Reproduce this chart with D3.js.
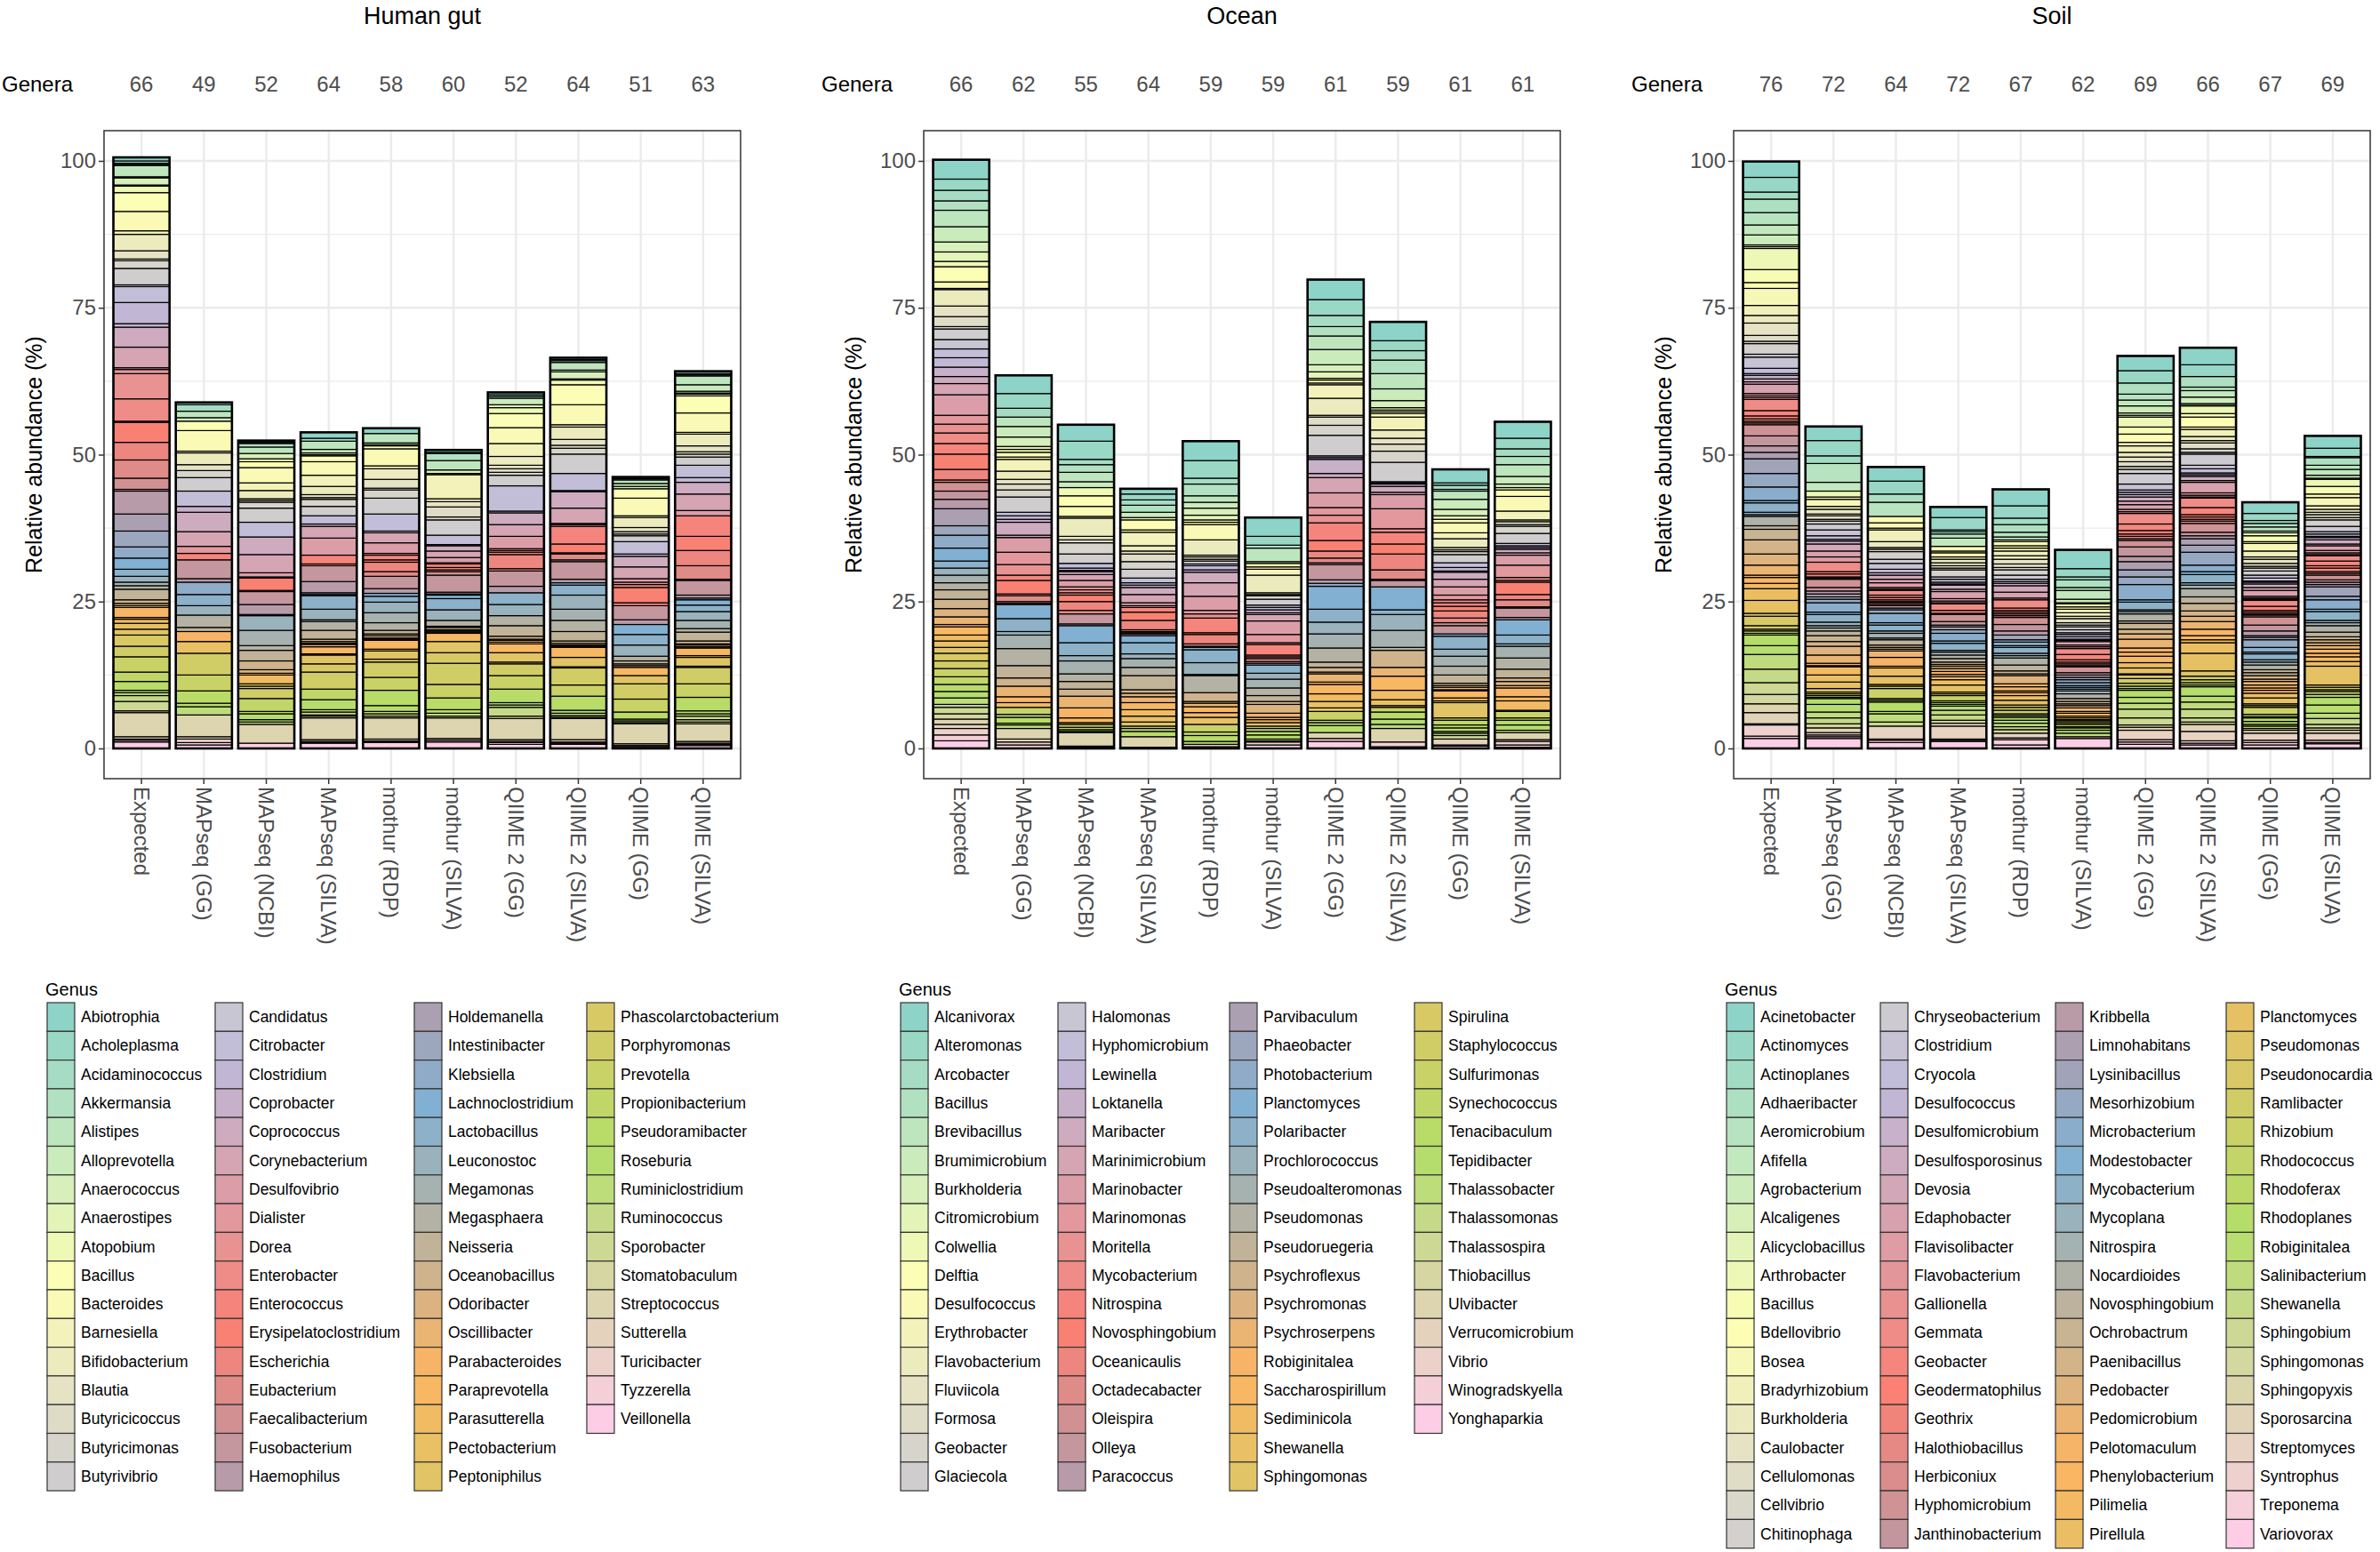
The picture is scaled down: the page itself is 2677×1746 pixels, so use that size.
<!DOCTYPE html>
<html>
<head>
<meta charset="utf-8">
<script src="https://cdn.jsdelivr.net/npm/d3@7"></script>
<style>
  body { margin: 0; background: #fff; }
  text { font-family: "Liberation Sans", Arial, sans-serif; }
</style>
</head>
<body>
<svg id="chart" width="2677" height="1746"></svg>
<script>
// ---- data ----
const methods = ["Expected", "MAPseq (GG)", "MAPseq (NCBI)", "MAPseq (SILVA)", "mothur (RDP)",
  "mothur (SILVA)", "QIIME 2 (GG)", "QIIME 2 (SILVA)", "QIIME (GG)", "QIIME (SILVA)"];
const panelTitles = ["Human gut", "Ocean", "Soil"];

const gutGenera = ["Abiotrophia","Acholeplasma","Acidaminococcus","Akkermansia","Alistipes","Alloprevotella",
  "Anaerococcus","Anaerostipes","Atopobium","Bacillus","Bacteroides","Barnesiella","Bifidobacterium","Blautia",
  "Butyricicoccus","Butyricimonas","Butyrivibrio","Candidatus","Citrobacter","Clostridium","Coprobacter",
  "Coprococcus","Corynebacterium","Desulfovibrio","Dialister","Dorea","Enterobacter","Enterococcus",
  "Erysipelatoclostridium","Escherichia","Eubacterium","Faecalibacterium","Fusobacterium","Haemophilus",
  "Holdemanella","Intestinibacter","Klebsiella","Lachnoclostridium","Lactobacillus","Leuconostoc","Megamonas",
  "Megasphaera","Neisseria","Oceanobacillus","Odoribacter","Oscillibacter","Parabacteroides","Paraprevotella",
  "Parasutterella","Pectobacterium","Peptoniphilus","Phascolarctobacterium","Porphyromonas","Prevotella",
  "Propionibacterium","Pseudoramibacter","Roseburia","Ruminiclostridium","Ruminococcus","Sporobacter",
  "Stomatobaculum","Streptococcus","Sutterella","Turicibacter","Tyzzerella","Veillonella"];
const oceanGenera = ["Alcanivorax","Alteromonas","Arcobacter","Bacillus","Brevibacillus","Brumimicrobium",
  "Burkholderia","Citromicrobium","Colwellia","Delftia","Desulfococcus","Erythrobacter","Flavobacterium",
  "Fluviicola","Formosa","Geobacter","Glaciecola","Halomonas","Hyphomicrobium","Lewinella","Loktanella",
  "Maribacter","Marinimicrobium","Marinobacter","Marinomonas","Moritella","Mycobacterium","Nitrospina",
  "Novosphingobium","Oceanicaulis","Octadecabacter","Oleispira","Olleya","Paracoccus","Parvibaculum",
  "Phaeobacter","Photobacterium","Planctomyces","Polaribacter","Prochlorococcus","Pseudoalteromonas",
  "Pseudomonas","Pseudoruegeria","Psychroflexus","Psychromonas","Psychroserpens","Robiginitalea",
  "Saccharospirillum","Sediminicola","Shewanella","Sphingomonas","Spirulina","Staphylococcus","Sulfurimonas",
  "Synechococcus","Tenacibaculum","Tepidibacter","Thalassobacter","Thalassomonas","Thalassospira",
  "Thiobacillus","Ulvibacter","Verrucomicrobium","Vibrio","Winogradskyella","Yonghaparkia"];
const soilGenera = ["Acinetobacter","Actinomyces","Actinoplanes","Adhaeribacter","Aeromicrobium","Afifella",
  "Agrobacterium","Alcaligenes","Alicyclobacillus","Arthrobacter","Bacillus","Bdellovibrio","Bosea",
  "Bradyrhizobium","Burkholderia","Caulobacter","Cellulomonas","Cellvibrio","Chitinophaga","Chryseobacterium",
  "Clostridium","Cryocola","Desulfococcus","Desulfomicrobium","Desulfosporosinus","Devosia","Edaphobacter",
  "Flavisolibacter","Flavobacterium","Gallionella","Gemmata","Geobacter","Geodermatophilus","Geothrix",
  "Halothiobacillus","Herbiconiux","Hyphomicrobium","Janthinobacterium","Kribbella","Limnohabitans",
  "Lysinibacillus","Mesorhizobium","Microbacterium","Modestobacter","Mycobacterium","Mycoplana","Nitrospira",
  "Nocardioides","Novosphingobium","Ochrobactrum","Paenibacillus","Pedobacter","Pedomicrobium","Pelotomaculum",
  "Phenylobacterium","Pilimelia","Pirellula","Planctomyces","Pseudomonas","Pseudonocardia","Ramlibacter",
  "Rhizobium","Rhodococcus","Rhodoferax","Rhodoplanes","Robiginitalea","Salinibacterium","Shewanella",
  "Sphingobium","Sphingomonas","Sphingopyxis","Sporosarcina","Streptomyces","Syntrophus","Treponema","Variovorax"];

const gutGeneraCount = [66, 49, 52, 64, 58, 60, 52, 64, 51, 63];
const oceanGeneraCount = [66, 62, 55, 64, 59, 59, 61, 59, 61, 61];
const soilGeneraCount = [76, 72, 64, 72, 67, 62, 69, 66, 67, 69];

// relative abundance (%) per genus, in genus order, one row per method
const gutValues = [
  ["0.6 0.4 0.2 0.2 1.9 0.2 1.2 0.2 1.1 3.2 3.3 0.6 2.8 1.4 0.3 1.3 2.8 0.3 2.7 3.6 0.6 3.4 3.5 0.3 0.7 4.3 3.8 0.2 3.4 3.0 3.1 1.9 0.3 3.9 2.9 2.7 1.9 1.9 1.2 1.0 0.6 0.6 1.8 0.6 0.4 0.3 1.7 0.3 0.7 1.0 1.0 1.9 1.8 2.6 1.6 1.5 0.4 0.5 1.0 1.6 0.3 4.1 0.4 0.2 0.3 1.1"],
  ["0.4 0 1.1 0 1.1 0.6 0 0", "0 1.6 3.5 0.3 2.0 1.0 0 1.2 2.3", "0 2.6 0 1.0 3.3 2.5 0 1.2 0", "0 1.1 0 0 0 0 3.2 0.6", "0 0 2.1 0 1.9 1.6 0 2.1 0.7", "0 0 0 1.7 0 0 2.0 0 0", "3.7 2.7 0 2.1 0.6 1.4 0 0 0", "3.7 0.4 0.6 0.4 0.6"],
  ["0.3 0 0.2 0.6 1.1 0 0.9 0", "0.5 1.0 2.6 1.3 1.4 0.3 0.3 1.0 2.4", "0 2.5 0 0 3.0 3.1 0.7 0 0", "0 0.2 2.1 0.2 0 0 2.2 1.7", "0 0 0 0 0.2 2.5 2.6 0.8 1.8", "1.5 0.6 0 0 0.3 1.5 0 0.4 0.4", "1.7 0 2.2 0.4 1.0 0.4 0.4 0 0", "3.2 0 0 0 0.9"],
  ["1.0 0 0.5 0 1.4 0.6 0.3 0", "0.2 1.0 2.3 1.9 1.4 0.5 0.3 1.2 1.6", "0 1.4 0 0 0.4 2.0 2.9 0 0", "0 1.5 0.3 0 0 0 2.7 1.9", "0 0 0.3 0.2 2.3 1.8 0.3 1.5 1.5", "0.4 0.3 0.2 0.4 1.2 0.2 0 1.5 1.4", "2.9 0 1.8 0 1.7 0.4 0.5 0.2 0.3", "3.7 0.3 0.2 0.1 0.9"],
  ["0.9 0 0 0 1.6 0.3 0.2 0", "0 0.5 2.9 0.5 1.8 1.5 0.3 1.4 2.7", "0 2.9 0 0 0.3 1.7 1.8 0.3 0", "0 0.8 0.4 1.6 0.8 0 2.1 0.8", "0 0 0 0.5 1.0 1.8 1.7 1.3 0.6", "0.3 0.4 0.2 0.2 1.5 0.3 0 1.4 0.5", "2.6 2.2 0 2.6 1.0 0.4 0.4 0.3 0", "3.6 0.3 0.2 0.1 1.0"],
  ["0.4 0.2 0 1.2 1.6 0 0.6 0", "0 0 0.2 4.1 0.5 0.9 1.7 0.5 2.6", "0 1.6 0.2 0 0.9 1.1 0.9 0 0", "0 0.2 0.6 0.4 0.3 0.6 2.9 0.3", "0 0 0.2 0.6 1.9 1.8 0 1.0 0.2", "0.4 0.2 0.2 0.2 1.4 0 0 1.9 1.8", "3.6 2.3 0 2.0 0.6 0.5 0.3 0 0", "3.5 0.3 0.3 0 1.1"],
  ["0.4 0.3 0 0.3 0 1.1 0 0.5", "1.0 2.4 2.7 2.2 1.5 0.6 0.6 0.5 1.8", "0 4.3 0.3 0 2.0 2.0 2.1 0.3 0", "0 0.3 0.4 2.4 0.4 0 2.6 1.1", "0 0 0 0 2.0 1.9 0 1.7 1.8", "0.5 0.2 0.3 0.3 1.5 0 0 1.6 0.3", "2.0 2.3 0 2.3 0.4 0.4 1.5 0.4 0", "3.6 0.3 0.2 0.3 0.7"],
  ["0.3 0.2 0.3 0 1.3 0.3 1.2 0.2", "0.8 3.4 3.4 0.4 2.1 1.0 0.5 1.0 3.3", "0 2.9 0.2 0 2.8 2.6 0.2 0.3 0", "0 3.0 1.5 0.2 1.0 0.3 3.0 0.6", "0 0 0 0.4 1.7 2.4 1.9 1.9 1.6", "0.4 0.3 0.2 0.2 1.7 0 0 1.6 0.2", "2.9 1.9 0 2.4 0.5 0.4 0.3 0.2 0", "3.6 0.4 0.2 0.2 0.7"],
  ["0.3 0 0.2 0 0.6 0.5 0.4 0", "0 1.6 3.0 0.3 1.7 0.7 0.4 0.3 1.0", "0 2.1 0.4 0 1.8 2.0 0.6 0.4 0", "0 0.5 2.6 0.5 0 0 2.4 0.8", "0 0 0 1.7 1.8 1.9 0 0.8 0.5", "0.3 0.3 0 0 1.4 0 0 1.4 0", "2.6 2.2 0 1.2 0.3 0.3 0.2 0 0", "3.4 0.3 0 0.2 0.3"],
  ["0.4 0.2 0 0.2 1.5 1.1 0.3 0.2", "0.3 2.9 3.3 0.3 2.0 1.0 0.4 0.5 1.4", "0 2.1 0.8 0 2.0 2.8 0.9 0 0", "0 3.5 2.4 2.6 2.3 0.2 2.5 0.5", "0 0 0.3 0.9 1.1 1.5 1.4 0.6 1.5", "0.5 0.2 0.3 0.2 1.3 0.3 0 1.5 0.2", "2.8 2.3 0 2.3 0.5 0.4 0.6 0.4 0.3", "3.0 0.3 0.2 0.2 0.5"]
];
const oceanValues = [
  ["3.3 1.9 1.8 1.6 2.8 2.6 1.7 1.6 0.9 2.6 1.1 0.2 2.8 1.8 1.7 0.4 1.8 1.6 1.5 1.6 1.6 1.2 1.9 3.5 1.5 1.5 1.8 1.8 2.6 1.8 0.4 1.5 1.4 1.6 2.9 1.6 2.2 2.2 1.2 1.2 1.3 1.2 1.6 1.6 1.4 1.3 0.4 1.4 1.0 1.1 1.0 1.3 1.3 1.4 1.3 1.2 1.1 1.1 0.5 1.1 0.9 0.9 0.7 1.1 1.0 1.3"],
  ["3.1 2.5 1.5 0 1.6 1.8 1.6 0.5", "0.5 0.8 0.4 2.0 1.4 0.8 1.0 1.2 2.6", "0 0.6 0.6 0.5 2.2 0.4 2.5 2.1 1.8", "0 0.9 2.3 0.3 1.0 0.3 0.2 0", "0 0 0 2.4 2.2 0.6 2.3 2.9 2.1", "1.4 0 1.8 0 1.0 0.8 0 0 0", "0 1.2 0.5 1.0 0.3 0.6 0 0 0", "1.8 0.5 0.5 0.6 0"],
  ["2.8 3.1 0.9 1.3 1.6 1.0 0 0", "1.4 1.8 1.7 0.3 3.1 0.6 0.5 1.9 1.6", "0 0.8 0.4 0.2 0.5 1.0 1.1 0.5 0.5", "0 0.4 1.1 1.5 0.6 0 1.7 0.3", "0 0 0 2.9 2.2 0.9 2.2 1.3 1.3", "1.2 0 2.0 1.7 0.8 0.3 0 0 0", "0 0.5 0.4 0.3 0.2 0 0 0 0", "2.3 0 0 0.2 0.2"],
  ["0.9 1.0 0.9 1.2 0 0.9 0 0", "0.4 1.7 0.4 2.3 0.9 0.5 1.3 1.3 1.5", "0 0.8 0.4 0.4 1.2 1.4 0.5 0.3 0", "0 0.8 1.4 1.6 0.3 0.2 0.2 0.3", "0 0 0 1.2 1.9 0.8 1.5 1.4 2.4", "0.6 0.6 1.0 0 1.2 1.1 1.0 0.7 0", "0 0.4 0.5 0.9 0 0 0 0 0", "1.8 0.2 0 0 0"],
  ["3.3 3.0 1.0 2.0 1.1 1.0 1.2 0.8", "0.4 0.4 2.6 0 2.6 0.3 0.4 0.3 0.5", "0 0.3 0.7 0.4 1.8 2.3 2.4 0.6 0.7", "0 2.5 0.3 1.6 0.4 0.2 0 0", "0 0 0 0.4 2.2 2.0 0.2 2.9 0", "1.5 0.3 0.6 0 1.0 0.8 1.2 0 0", "0 1.3 0.6 1.0 0.5 0 0 0 0", "0 0 0.4 0.3 0"],
  ["3.2 1.5 0 0.5 2.3 0 0 0", "0.3 0.6 0.4 1.0 3.0 0.3 0.2 0.6 1.0", "0 0.4 0.4 0.5 0.3 1.1 2.3 1.4 0.3", "0 1.8 0.3 0.3 0.5 0.3 0 0", "0 0 0 0.3 1.4 1.0 1.5 1.3 1.0", "0.5 1.5 0.7 0.4 0.5 0.6 0 0 0", "0 0.4 0.5 0.6 0.7 0.3 0 0 0", "0.2 0 0 0.5 0.6"],
  ["3.4 2.7 1.9 1.6 2.3 2.6 1.2 1.1", "0.3 0.5 0.3 2.3 2.9 0.3 1.4 1.7 3.5", "0 0.3 0.3 2.4 0.7 2.6 2.5 1.3 1.3", "0 3.0 1.8 1.2 0.8 0.3 2.6 0.6", "0 0 0.5 3.9 2.2 2.0 2.4 2.4 0.9", "0.8 0.3 1.4 0.4 1.6 1.3 1.1 0.6 0", "0 1.5 0.4 0.5 1.2 0 0 0 0", "1.0 0 0 0.5 1.2"],
  ["3.2 1.7 1.6 2.3 2.6 2.0 1.2 0.4", "0.3 0.3 0.6 2.2 1.4 1.0 1.2 1.9 3.3", "0 0.2 0.2 0.4 1.0 0.4 2.4 3.4 0.6", "0 2.0 1.7 2.7 1.6 0.2 1.1 0", "0 0 0 3.9 0.8 2.7 2.9 0.5 0", "2.9 0 1.5 0 2.4 1.6 1.0 0.3 0", "0 0.8 0 1.2 0.9 0.7 0 0 0", "2.3 0 0 0.8 0.3"],
  ["2.3 0.4 0.7 0.3 1.4 1.7 1.1 0.6", "0 0.6 1.7 1.0 1.5 0.4 0.3 0.5 1.4", "0 0.8 0.6 0.2 1.2 1.3 1.4 0.8 0.5", "0 0.6 0.8 1.2 0.8 0.5 1.4 0", "0 0 0 0.4 2.2 1.2 1.7 1.5 1.4", "0.4 0.3 0.4 0.2 1.2 0.5 0.3 2.6 0", "0 0.4 0.8 0.5 0.6 0.3 0.4 0.6 0", "0 1.0 0.2 0.4 0"],
  ["2.8 1.8 1.3 1.4 2.0 1.3 0.6 0.4", "0 1.1 2.5 1.5 0.3 0.5 0.3 1.2 1.7", "0 0.4 0.3 0.3 0.6 0.4 1.7 2.1 0.5", "0 0.3 2.1 0.9 1.2 0.2 1.6 0.4", "0 0 0 2.6 1.5 0.4 2.0 1.9 1.5", "0.6 0.7 0.4 1.5 0.7 1.6 0.2 0 0", "0 1.1 0.4 0.8 0.9 0.4 0 0 0", "1.2 0.3 0.6 0.4 0.2"]
];
const soilValues = [
  ["2.7 2.5 1.2 2.3 2.1 1.7 1.7 0.3 0.3", "3.6 2.2 1.0 2.9 1.7 1.3 2.1 1.0 0.4 1.8 0.5", "1.9 0.9 0.3 0.6 0.5 0.4 1.6 0.4 0.3 0.3", "1.9 0.9 0.5 0.4 0.3 0.3 1.9 1.7 1.1", "1.1 2.5 2.3 2.3 0.4 1.6 0.4 0.3 1.6 0.6", "1.8 2.4 1.9 1.7 0.4 1.0 0.9 2.0 2.2 0.5", "1.6 0.6 0.3 0.4 0.3 1.8 1.5 2.5 2.3 2.0 1.6", "1.5 1.9 0.2 1.9 0.4 1.7"],
  ["2.4 2.6 1.3 0 3.2 1.5 0 0 0", "1.0 0.4 0 1.2 0.5 0.8 0.3 0.6 0.3 0.5 1.0", "1.0 0.6 0.3 0 0.5 1.2 1.0 0.9 0 0", "1.6 0.4 0.5 0.2 0.2 0 1.4 0.6 0.5", "0.5 0.4 0.6 1.6 0.4 1.3 0.6 0.4 0.5 0.8", "1.0 0.8 1.5 1.4 0.4 0.2 1.4 1.2 1.1 0.6", "0 0.3 0.3 0.3 0.2 1.0 1.3 1.0 1.0 0.7 0", "0 0.8 0.4 0.3 0.3 1.7"],
  ["2.4 2.2 0 1.4 2.4 0 0 0 0", "0 1.1 0.9 0.3 2.0 1.0 0.3 0.4 0 1.3 0.7", "1.0 0.6 0 0.4 0 0.7 0.6 0.8 0.3 0.2", "0.8 0.4 0.4 0.3 0.2 0.3 0.2 0.4 0", "0 0.3 0.6 1.6 0.4 1.0 0.4 0.8 0.3 0.9", "0.4 0.3 0.3 1.1 1.5 0.3 0 1.4 1.4 0.3", "0 0.4 1.7 0.3 0.3 1.6 0.4 1.4 0.7 0 0", "0 0 2.2 0.2 0.4 1.0"],
  ["1.8 2.1 0.3 0.4 0.7 1.4 0 0 0", "0 0.8 0.3 0.7 0.4 0.6 0.5 0.4 0.3 1.2 0.4", "0 0.5 0.3 0.2 0.7 0.4 1.2 0.4 0.3 0.2", "1.1 0.5 0.2 0 0 0 1.2 0.6 0.3", "0 0.5 0.6 1.3 0.4 1.2 0.3 0.5 0.6 0.6", "0.4 0.3 0.4 0.5 0.5 0.4 0.5 0.9 1.2 0.3", "0 0.3 0.9 0.3 0.3 0.3 0.7 0.8 0.9 0.5 0", "0 0.5 2.2 0.2 0.2 1.2"],
  ["2.8 2.1 1.1 1.3 0.8 0.5 0.3 0 0", "0 0.7 0.4 0.5 0.8 0.6 0.8 0.6 0.4 0.9 0.7", "0 0.4 0.3 0 0.4 1.1 1.0 0.3 0 0", "1.4 0.4 0.3 0.3 0.3 0.3 1.2 1.1 0.7", "0 0.8 0.4 0.6 0.3 1.0 0.4 0.4 1.2 1.0", "0.5 0.3 1.4 0.5 0.7 0.3 0.5 0.8 0.8 0.4", "0 0.5 0.6 0.3 0.3 0.5 0.5 0.6 0.5 0.6 0", "0 0 0.8 0.3 0.9 0.6"],
  ["3.2 1.4 0.5 1.3 0.5 1.5 0.6 0.2 0", "0 0.5 0.4 0.6 0.6 0.4 0.7 0.4 0.3 0.5 0.5", "0.3 0.4 0.4 0 0.2 0.2 0.6 0.3 0.3 0", "1.0 0.9 0.4 0.3 0.3 0.2 1.0 0.4 0.4", "0 0.4 0.5 0.5 0.3 0.3 0.3 0.5 0.8 0.5", "0.4 0.3 0.4 0.6 0.3 0.5 0.3 0.3 0.2 0", "0 0.3 0.3 0.4 0.2 0.4 0.5 0.6 0 0 0", "0 0 0 0 0.3 1.7"],
  ["2.5 2.1 0 1.9 1.0 1.0 1.2 0.4 0.3", "1.7 1.2 1.4 0.6 1.1 0.8 0.8 0.8 0.5 0.7 1.8", "1.0 0.4 0.4 0.4 0.7 0.6 0.8 0.4 0.3 0", "1.8 1.1 0.6 0.4 0.4 0.3 1.1 1.6 0.9", "1.4 1.2 1.3 2.6 0.4 1.3 0.3 0.4 1.2 0.4", "1.0 0.8 0.9 1.5 0.7 0.7 1.1 0.9 1.0 0.2", "0.6 0.8 0.5 0.4 0.3 1.2 1.0 1.0 1.5 1.2 0.4", "0 0.5 1.6 0.4 0.4 0.7"],
  ["2.9 2.0 0 1.8 0.6 1.1 1.1 0.3 0.1", "1.3 0.6 1.7 0.4 1.2 0.7 0.4 1.0 0.6 0.3 1.9", "0.6 0.7 0.3 0.3 0.7 0.3 1.8 0.4 0.3 0.2", "1.6 1.2 0.4 0.4 0.3 0.4 1.5 0.6 0.5", "1.1 1.2 2.2 1.1 0.5 1.4 0.4 0.6 1.4 1.1", "1.3 0.9 0.9 1.3 1.1 0.7 0.5 1.8 3.0 0.9", "0 0.6 0.5 0.4 0.3 1.6 1.0 1.2 1.5 0.7 0.4", "0 1.2 1.6 0.4 0.3 0.6"],
  ["1.9 1.2 0.5 0.6 0.7 0.3 0 0 0", "0.5 1.0 0.3 1.3 1.0 0.4 0.7 0.5 0.3 0.5 0.7", "0.5 0.5 0.2 0.3 0.6 0.5 1.0 0.3 0.2 0.2", "1.0 0.7 0.3 0.3 0.2 0.3 1.4 1.0 0.8", "0.3 0.4 1.3 0.8 0.3 1.0 0.4 0.5 0.8 0.5", "0.5 0.6 0.4 0.6 0.5 0.4 0.5 0.8 1.0 0.3", "0 0.3 1.2 0.4 0.2 0.6 0.5 0.3 0.4 0.3 0", "0 0.5 1.2 0.4 0.4 0.6"],
  ["2.1 1.4 0.2 1.3 0.7 1.0 0.5 0.2 0", "1.2 1.3 0.6 1.4 0.6 0.5 0.4 0.5 0.4 1.1 0.9", "0.4 0.4 0.2 0.4 0.7 0.3 0.8 0.4 0.3 0.2", "0.9 0.8 0.4 0.6 0.3 0.3 0.8 0.4 0.4", "0.4 1.6 0.6 1.6 0.4 1.5 0.4 0.5 1.1 0.8", "0.5 0.5 0.5 0.6 0.7 0.6 0.8 0.8 3.2 0.4", "0 0.4 0.3 0.5 0.5 1.3 1.4 0.9 1.0 0.6 0.4", "0 0.5 1.2 0.4 0.2 0.8"]
];

const yTicks = [0, 25, 50, 75, 100];
const set3 = ["#8DD3C7", "#FFFFB3", "#BEBADA", "#FB8072", "#80B1D3", "#FDB462", "#B3DE69", "#FCCDE5"];

// ---- layout ----
const panels = [
  { genera: gutGenera, counts: gutGeneraCount, values: gutValues, x0: 117, legendX: [53, 242, 466, 660], rows: 17 },
  { genera: oceanGenera, counts: oceanGeneraCount, values: oceanValues, x0: 1039, legendX: [1013, 1190, 1383, 1591], rows: 17 },
  { genera: soilGenera, counts: soilGeneraCount, values: soilValues, x0: 1950, legendX: [1942, 2115, 2312, 2504], rows: 19 }
];
const plotW = 716, plotTop = 147, plotBottom = 876;

const svg = d3.select("#chart");
const y = d3.scaleLinear().domain([0, 100]).range([842, 181]);

panels.forEach((p, pi) => {
  const n = p.genera.length;
  const ramp = d3.piecewise(d3.interpolateRgb, set3);
  const color = d3.scaleOrdinal().domain(p.genera).range(p.genera.map((_, i) => ramp(i / (n - 1))));
  const x = d3.scaleBand().domain(methods).range([p.x0, p.x0 + plotW]).paddingInner(0.1).paddingOuter(0.15);
  const g = svg.append("g");

  // title & genera row
  g.append("text").attr("x", p.x0 + plotW / 2).attr("y", 27).attr("text-anchor", "middle")
    .attr("font-size", 27).text(panelTitles[pi]);
  g.append("text").attr("x", p.x0 - 115).attr("y", 103).attr("font-size", 24).text("Genera");
  g.selectAll(".gc").data(p.counts).join("text")
    .attr("x", (d, i) => x(methods[i]) + x.bandwidth() / 2).attr("y", 103)
    .attr("text-anchor", "middle").attr("font-size", 24).attr("fill", "#4d4d4d").text(d => d);

  // grid
  g.append("rect").attr("x", p.x0).attr("y", plotTop).attr("width", plotW).attr("height", plotBottom - plotTop).attr("fill", "#fff");
  const minor = [12.5, 37.5, 62.5, 87.5];
  g.selectAll(".mn").data(minor).join("line").attr("x1", p.x0).attr("x2", p.x0 + plotW)
    .attr("y1", d => y(d)).attr("y2", d => y(d)).attr("stroke", "#ebebeb").attr("stroke-width", 1.2);
  g.selectAll(".mj").data(yTicks).join("line").attr("x1", p.x0).attr("x2", p.x0 + plotW)
    .attr("y1", d => y(d)).attr("y2", d => y(d)).attr("stroke", "#ebebeb").attr("stroke-width", 2.4);
  g.selectAll(".vx").data(methods).join("line")
    .attr("x1", d => x(d) + x.bandwidth() / 2).attr("x2", d => x(d) + x.bandwidth() / 2)
    .attr("y1", plotTop).attr("y2", plotBottom).attr("stroke", "#ebebeb").attr("stroke-width", 2.4);

  // stacked bars: first genus on top
  p.values.forEach((groups, bi) => {
    let vals = groups.join(" ").trim().split(/\s+/).map(Number);
    if (vals.length !== n) { console.warn(panelTitles[pi], methods[bi], vals.length); }
    let cum = 0;
    const segs = [];
    for (let i = n - 1; i >= 0; i--) {
      const v = vals[i] || 0;
      if (v > 0) segs.push({ genus: p.genera[i], y0: cum, y1: cum + v });
      cum += v;
    }
    const bx = x(methods[bi]);
    g.selectAll(null).data(segs).join("rect")
      .attr("x", bx).attr("width", x.bandwidth())
      .attr("y", d => y(d.y1)).attr("height", d => y(d.y0) - y(d.y1))
      .attr("fill", d => color(d.genus)).attr("stroke", "#000").attr("stroke-width", 1.2);
    g.append("rect").attr("x", bx).attr("width", x.bandwidth())
      .attr("y", y(cum)).attr("height", y(0) - y(cum))
      .attr("fill", "none").attr("stroke", "#000").attr("stroke-width", 2.6);
  });

  // panel border
  g.append("rect").attr("x", p.x0).attr("y", plotTop).attr("width", plotW).attr("height", plotBottom - plotTop)
    .attr("fill", "none").attr("stroke", "#333").attr("stroke-width", 1.5);

  // y axis
  const yAxis = g.append("g").attr("transform", `translate(${p.x0},0)`)
    .call(d3.axisLeft(y).tickValues(yTicks).tickSize(6).tickFormat(d3.format("d")));
  yAxis.select(".domain").remove();
  yAxis.selectAll("line").attr("stroke", "#333").attr("stroke-width", 1.5);
  yAxis.selectAll("text").attr("font-size", 24).attr("fill", "#4d4d4d").attr("x", -9)
    .style("font-family", "Liberation Sans, Arial, sans-serif");
  g.append("text").attr("transform", `translate(${p.x0 - 79},${(plotTop + plotBottom) / 2}) rotate(-90)`)
    .attr("text-anchor", "middle").attr("dominant-baseline", "central").attr("font-size", 25)
    .text("Relative abundance (%)");

  // x axis
  const xAxis = g.append("g").attr("transform", `translate(0,${plotBottom})`)
    .call(d3.axisBottom(x).tickSize(6));
  xAxis.select(".domain").remove();
  xAxis.selectAll("line").attr("stroke", "#333").attr("stroke-width", 1.5);
  xAxis.selectAll("text").attr("font-size", 24).attr("fill", "#4d4d4d")
    .style("font-family", "Liberation Sans, Arial, sans-serif")
    .attr("text-anchor", "start").attr("dominant-baseline", "central")
    .attr("transform", "translate(0,9) rotate(90)").attr("x", 0).attr("y", 0).attr("dy", null);

  // legend
  const lg = g.append("g");
  lg.append("text").attr("x", p.legendX[0] - 2).attr("y", 1120).attr("font-size", 20).text("Genus");
  const rowH = 32.3, keyW = 31, top = 1128;
  p.genera.forEach((name, i) => {
    const col = Math.floor(i / p.rows), row = i % p.rows;
    const lx = p.legendX[col], ly = top + row * rowH;
    lg.append("rect").attr("x", lx).attr("y", ly).attr("width", keyW).attr("height", rowH)
      .attr("fill", color(name)).attr("stroke", "#333").attr("stroke-width", 1.2);
    lg.append("text").attr("x", lx + 38).attr("y", ly + rowH / 2).attr("dominant-baseline", "central")
      .attr("font-size", 17.5).text(name);
  });
});
</script>
</body>
</html>
